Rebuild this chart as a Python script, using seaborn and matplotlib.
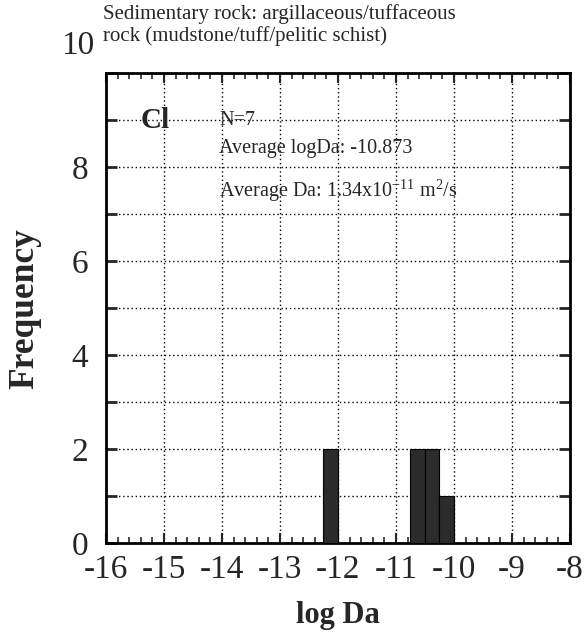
import matplotlib
matplotlib.use("Agg")
import matplotlib.pyplot as plt
import matplotlib.transforms as mtransforms
from matplotlib.ticker import MultipleLocator
import pandas as pd
import seaborn as sns

# Histogram of log Da for argillaceous / tuffaceous sedimentary rock (0.25-wide bins)
bin_left = [-12.25, -10.75, -10.50, -10.25]
bin_count = [2, 2, 2, 1]
bin_width = 0.25

x_ticks = [-16, -15, -14, -13, -12, -11, -10, -9, -8]
y_ticks = [0, 2, 4, 6, 8]

title_text = "Sedimentary rock: argillaceous/tuffaceous\nrock (mudstone/tuff/pelitic schist)"
panel_tag = "Cl"
n_text = "N=7"
avg_log_text = "Average logDa: -10.873"
avg_da_text = r"Average Da: 1.34x10$^{-11}$ m$^{2}$/s"

df = pd.DataFrame({
    "logDa": [b + bin_width / 2 for b in bin_left],
    "count": bin_count,
})

sns.set_style("white")
plt.rcParams["font.family"] = ["Liberation Serif", "DejaVu Serif"]
plt.rcParams["axes.unicode_minus"] = False
plt.rcParams["mathtext.fontset"] = "custom"
plt.rcParams["mathtext.rm"] = "Liberation Serif"
plt.rcParams["mathtext.it"] = "Liberation Serif"

fig = plt.figure(figsize=(5.84, 6.42), dpi=100)
ax = fig.add_axes([0.1815, 0.154, 0.7945, 0.732])

sns.histplot(data=df, x="logDa", weights="count", binwidth=bin_width,
             binrange=(-16, -8), color="#2b2b2b", edgecolor="black",
             linewidth=0.8, alpha=1, ax=ax, zorder=3)

ax.set_xlim(-16, -8)
ax.set_ylim(0, 10)

ax.set_xticks(x_ticks)
ax.set_xticklabels([str(v) for v in x_ticks], fontsize=24)
ax.xaxis.set_minor_locator(MultipleLocator(0.2))
ax.set_yticks(range(0, 11))
ax.set_yticklabels([str(v) if v in y_ticks else "" for v in range(0, 11)], fontsize=24)

ax.tick_params(axis="x", which="major", direction="in", length=7, width=1.5,
               top=True, bottom=True, pad=8)
ax.tick_params(axis="x", which="minor", direction="in", length=4, width=1.2,
               top=True, bottom=True)
ax.tick_params(axis="y", which="major", direction="in", length=8, width=2,
               left=True, right=True, pad=13)

for side in ax.spines.values():
    side.set_linewidth(2)
    side.set_color("black")

ax.grid(True, which="major", linestyle=(0, (1, 2)), color="black", linewidth=1.0)
ax.set_axisbelow(True)

# top-of-axis label sits above the frame
offset = mtransforms.ScaledTranslation(-0.12, 0.27, fig.dpi_scale_trans)
ax.text(0, 10, "10", transform=ax.get_yaxis_transform() + offset,
        ha="right", va="center", fontsize=24)

ax.set_xlabel("log Da", fontsize=22, fontweight="bold", labelpad=12)
ax.set_ylabel("Frequency", fontsize=25.5, fontweight="bold")
ax.yaxis.label.set_va("center")
ax.yaxis.label.set_ha("center")
ax.yaxis.set_label_coords(-0.175, 0.50)

fig.text(0.177, 0.993, title_text, ha="left", va="top", fontsize=15, linespacing=1.1)

ax.text(-15.4, 9, panel_tag, fontsize=21, fontweight="bold", ha="left", va="center")
ax.text(-14.05, 9, n_text, fontsize=14.5, ha="left", va="center")
ax.text(-14.05, 8.4, avg_log_text, fontsize=14.5, ha="left", va="center")
ax.text(-14.05, 7.5, avg_da_text, fontsize=14.5, ha="left", va="center")

fig.savefig("out.png", dpi=100)
